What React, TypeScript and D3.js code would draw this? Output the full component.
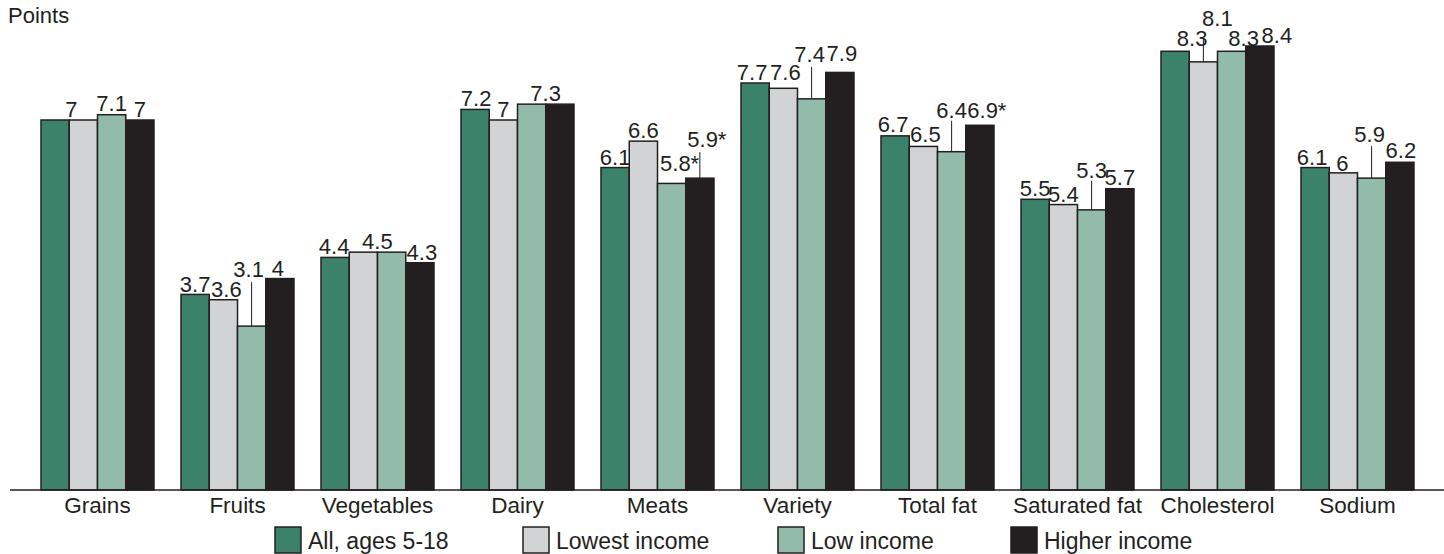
import React from "react";
import * as d3 from "d3";

const categories = ["Grains", "Fruits", "Vegetables", "Dairy", "Meats", "Variety", "Total fat", "Saturated fat", "Cholesterol", "Sodium"];
const seriesNames = ["All, ages 5-18", "Lowest income", "Low income", "Higher income"];
const allAges = [7, 3.7, 4.4, 7.2, 6.1, 7.7, 6.7, 5.5, 8.3, 6.1];
const lowestIncome = [7, 3.6, 4.5, 7, 6.6, 7.6, 6.5, 5.4, 8.1, 6];
const lowIncome = [7.1, 3.1, 4.5, 7.3, 5.8, 7.4, 6.4, 5.3, 8.3, 5.9];
const higherIncome = [7, 4, 4.3, 7.3, 5.9, 7.9, 6.9, 5.7, 8.4, 6.2];

const allLabels = ["", "3.7", "4.4", "7.2", "6.1", "7.7", "6.7", "5.5", "8.3", "6.1"];
const lowestLabels = ["7", "3.6", "4.5", "7", "6.6", "7.6", "6.5", "5.4", "8.1", "6"];
const lowLabels = ["7.1", "3.1", "", "7.3", "5.8*", "7.4", "6.4", "5.3", "8.3", "5.9"];
const higherLabels = ["7", "4", "4.3", "", "5.9*", "7.9", "6.9*", "5.7", "8.4", "6.2"];

// label layout (pixel offsets relative to bar centre / bar top)
const labelDx = [
  [0, 0, -1, 1, 0, -3, -2, 0, 17, -3],
  [-12, 3, 14, 0, 0, 2, 2, 0, 14, -1],
  [0, -3, 0, 14, 8, -2, 0, 0, 12, -2],
  [0, -2, 2, 0, 7, 2, 7, 0, 17, 1],
];
const labelDy = [
  [-3, -2, -3, -3, -3, -3, -4, -3, -5, -3],
  [-3, -3, -3, -3, -3, -8, -4, -3, -36, -2],
  [-4, -49, -3, -3, -12, -37, -34, -32, -5, -36],
  [-3, -3, -3, -3, -31, -11, -7, -4, -3, -4],
];
const leaderGap = [
  [0, 0, 0, 0, 0, 0, 0, 0, 0, 0],
  [0, 0, 0, 0, 0, 0, 0, 0, 12, 0],
  [0, 5, 0, 0, 0, 5, 3, 3, 0, 4],
  [0, 0, 0, 0, 5, 0, 0, 0, 0, 0],
];

const colors = ["#3c826a", "#d1d3d5", "#93bbaa", "#231f20"];
const stroke = "#231f20";
const font = "'Liberation Sans', Arial, Helvetica, sans-serif";

export default function App() {
  const W = 1444;
  const H = 554;
  const baseY = 490;
  const series = [allAges, lowestIncome, lowIncome, higherIncome];
  const labels = [allLabels, lowestLabels, lowLabels, higherLabels];

  const x0 = d3.scaleBand<string>().domain(categories).range([27.5, 1427.5]).paddingInner(0.193).paddingOuter(0.0965);
  const x1 = d3.scaleBand<number>().domain([0, 1, 2, 3]).range([0, x0.bandwidth()]);
  const y = d3.scaleLinear().domain([0, 7]).range([baseY, 120]);

  const legendX = [275, 523, 778, 1011];

  return (
    <svg width={W} height={H} style={{ position: "absolute", left: 0, top: 0, background: "#fff" }} fontFamily={font}>
      <text x={8} y={23} fontSize={22} fill={stroke}>Points</text>
      {categories.map((c, ci) => (
        <g key={c}>
          {series.map((s, si) => {
            const bx = (x0(c) as number) + (x1(si) as number);
            const bw = x1.bandwidth();
            return (
              <rect key={si} x={bx} y={y(s[ci])} width={bw} height={baseY - y(s[ci])} fill={colors[si]} stroke={stroke} strokeWidth={1.5} />
            );
          })}
          {series.map((s, si) => {
            const t = labels[si][ci];
            if (!t) return null;
            const cx = (x0(c) as number) + (x1(si) as number) + x1.bandwidth() / 2;
            const top = y(s[ci]);
            const by = top + labelDy[si][ci];
            const g = leaderGap[si][ci];
            return (
              <g key={"l" + si}>
                {g > 0 && <line x1={cx} x2={cx} y1={by + g} y2={top} stroke={stroke} strokeWidth={1} />}
                <text x={cx + labelDx[si][ci]} y={by} fontSize={22} textAnchor="middle" fill={stroke}>{t}</text>
              </g>
            );
          })}
          <text x={(x0(c) as number) + x0.bandwidth() / 2} y={513} fontSize={22.5} textAnchor="middle" fill={stroke}>{c}</text>
        </g>
      ))}
      <line x1={10} x2={W} y1={baseY} y2={baseY} stroke={stroke} strokeWidth={1.5} />
      {seriesNames.map((n, i) => (
        <g key={n}>
          <rect x={legendX[i]} y={527} width={26} height={26} fill={colors[i]} stroke={stroke} strokeWidth={1.5} />
          <text x={legendX[i] + 33} y={549} fontSize={23} fill={stroke}>{n}</text>
        </g>
      ))}
    </svg>
  );
}
